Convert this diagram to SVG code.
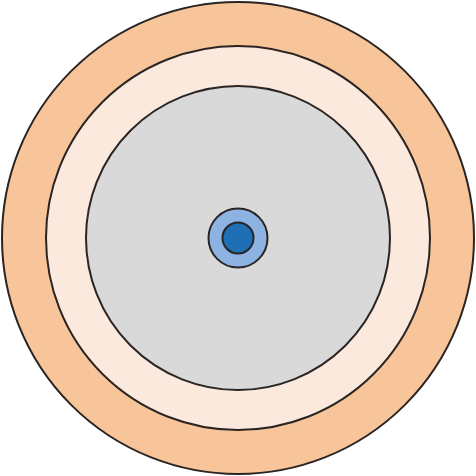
<svg xmlns="http://www.w3.org/2000/svg" width="476" height="476" viewBox="0 0 476 476">
<style>circle{stroke:#2a2523;stroke-width:2}</style>
<rect width="476" height="476" fill="#fff"/>
<g id="jacket"><circle cx="238" cy="238" r="236" fill="#f8c59a"/></g>
<g id="buffer"><circle cx="238" cy="238" r="192" fill="#fce9dd"/></g>
<g id="coating"><circle cx="238" cy="238" r="152" fill="#d9d9d9"/></g>
<g id="cladding"><circle cx="238" cy="238" r="29.5" fill="#8db3e2"/></g>
<g id="core"><circle cx="238" cy="238" r="15.5" fill="#1f6fb7"/></g>
<g id="connectors"/>
</svg>
